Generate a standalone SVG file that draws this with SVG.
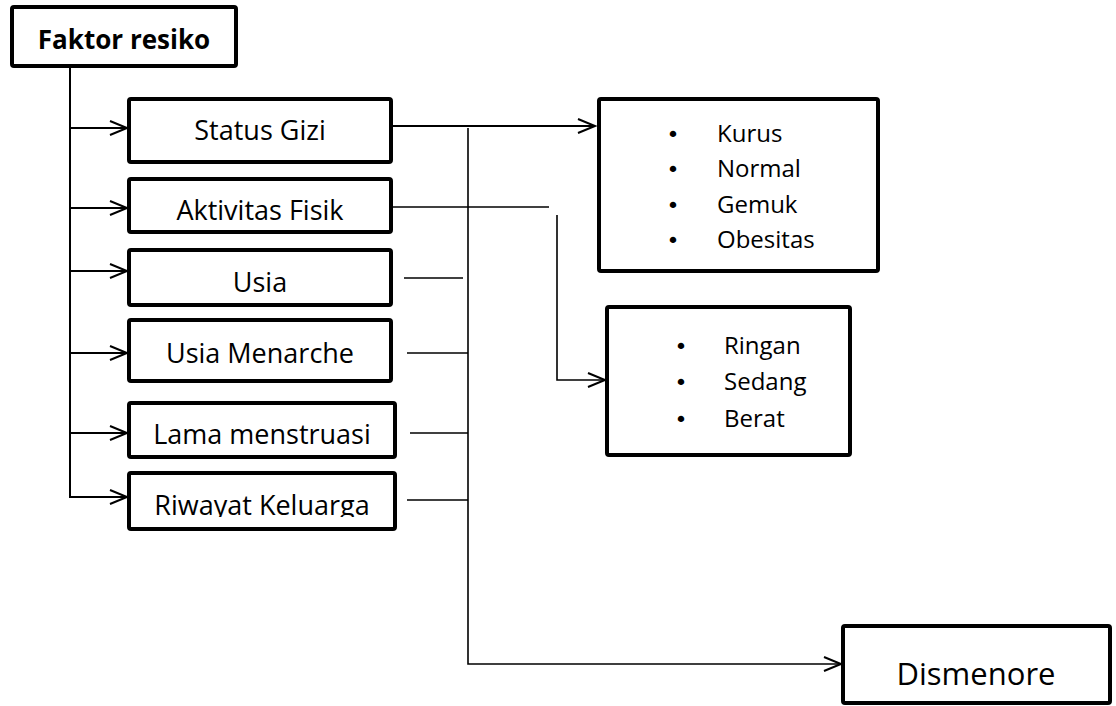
<svg xmlns="http://www.w3.org/2000/svg" width="1116" height="706" viewBox="0 0 1116 706">
<style>
.box{fill:#fff;stroke:#000;stroke-width:4;}
.t{font-family:"Open Sans","Liberation Sans",sans-serif;font-size:27px;fill:#000;text-anchor:middle;}
.b{font-weight:bold;font-size:26px;}
.li{font-family:"Open Sans","Liberation Sans",sans-serif;font-size:24px;fill:#000;}
.bu{font-family:"DejaVu Sans",sans-serif;font-size:22px;fill:#000;text-anchor:middle;}
.c{fill:none;stroke:#000;stroke-width:2;}
.c2{fill:none;stroke:#000;stroke-width:1.6;}
</style>
<defs>
<marker id="ah" markerUnits="userSpaceOnUse" markerWidth="22" markerHeight="20" refX="18" refY="8" orient="auto" viewBox="0 0 22 20">
<path d="M1,1 L18,8 L1,15" fill="none" stroke="#000" stroke-width="2"/>
</marker>
<clipPath id="clipR"><rect x="129" y="473" width="266" height="44"/></clipPath>
</defs>
<g id="connectors">
<path class="c" d="M70,68 V498"/>
<path class="c" d="M70,128 H127" marker-end="url(#ah)"/>
<path class="c" d="M70,208 H127" marker-end="url(#ah)"/>
<path class="c" d="M70,271 H127" marker-end="url(#ah)"/>
<path class="c" d="M70,353 H127" marker-end="url(#ah)"/>
<path class="c" d="M70,433 H127" marker-end="url(#ah)"/>
<path class="c" d="M70,497 H127" marker-end="url(#ah)"/>
<path class="c" d="M393,126 H595" marker-end="url(#ah)"/>
<path class="c2" d="M468,128 V664 H841" marker-end="url(#ah)"/>
<path class="c2" d="M393,207 H549"/>
<path class="c2" d="M557,215 V380 H605" marker-end="url(#ah)"/>
<path class="c2" d="M404,278 H463"/>
<path class="c2" d="M407,353 H468"/>
<path class="c2" d="M410,433 H468"/>
<path class="c2" d="M407,500 H468"/>
</g>
<g id="faktor">
<rect class="box" x="12" y="7" width="224" height="59" rx="2"/>
<text class="t b" x="124" y="49">Faktor resiko</text>
</g>
<g id="status-gizi">
<rect class="box" x="129" y="99" width="262" height="63" rx="2"/>
<text class="t" x="260" y="140">Status Gizi</text>
</g>
<g id="aktivitas-fisik">
<rect class="box" x="129" y="179" width="262" height="53" rx="2"/>
<text class="t" x="260" y="220">Aktivitas Fisik</text>
</g>
<g id="usia">
<rect class="box" x="129" y="250" width="262" height="55" rx="2"/>
<text class="t" x="260" y="292">Usia</text>
</g>
<g id="usia-menarche">
<rect class="box" x="129" y="320" width="262" height="61" rx="2"/>
<text class="t" x="260" y="363">Usia Menarche</text>
</g>
<g id="lama-menstruasi">
<rect class="box" x="129" y="403" width="266" height="54" rx="2"/>
<text class="t" x="262" y="444">Lama menstruasi</text>
</g>
<g id="riwayat-keluarga">
<rect class="box" x="129" y="473" width="266" height="56" rx="2"/>
<text class="t" x="262" y="515" clip-path="url(#clipR)">Riwayat Keluarga</text>
</g>
<g id="status-gizi-list">
<rect class="box" x="599" y="99" width="279" height="172" rx="2"/>
<text class="bu" x="673" y="142">•</text><text class="li" x="717" y="142">Kurus</text>
<text class="bu" x="673" y="177">•</text><text class="li" x="717" y="177">Normal</text>
<text class="bu" x="673" y="213">•</text><text class="li" x="717" y="213">Gemuk</text>
<text class="bu" x="673" y="248">•</text><text class="li" x="717" y="248">Obesitas</text>
</g>
<g id="aktivitas-list">
<rect class="box" x="607" y="307" width="243" height="148" rx="2"/>
<text class="bu" x="681" y="354">•</text><text class="li" x="724" y="354">Ringan</text>
<text class="bu" x="681" y="390">•</text><text class="li" x="724" y="390">Sedang</text>
<text class="bu" x="681" y="427">•</text><text class="li" x="724" y="427">Berat</text>
</g>
<g id="dismenore">
<rect class="box" x="843" y="626" width="267" height="77" rx="2"/>
<text class="t" x="976" y="685" style="font-size:31px">Dismenore</text>
</g>
</svg>
